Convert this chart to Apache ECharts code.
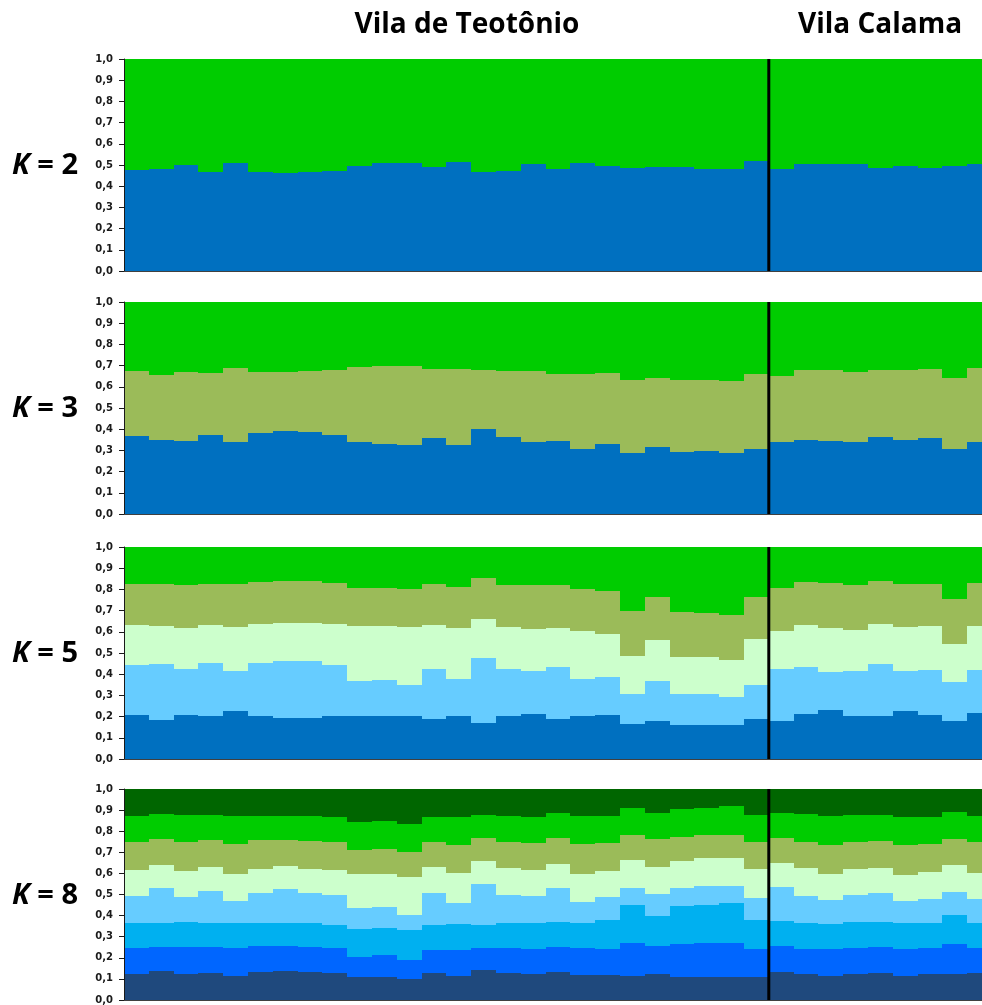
<!DOCTYPE html>
<html>
<head>
<meta charset="utf-8">
<script src="https://cdn.jsdelivr.net/npm/echarts@6/dist/echarts.min.js"></script>
<style>
html, body { margin: 0; padding: 0; background: #fff; overflow: hidden; }
/* the last Calama bar is cut by the picture edge, so the canvas runs past the window */
#chart { width: 992px; height: 1005px; }
</style>
</head>
<body>
<div id="chart"></div>
<script>
// individuals: 26 from Vila de Teotônio, 9 from Vila Calama
var individuals = ['T01','T02','T03','T04','T05','T06','T07','T08','T09','T10','T11','T12','T13',
  'T14','T15','T16','T17','T18','T19','T20','T21','T22','T23','T24','T25','T26',
  'C01','C02','C03','C04','C05','C06','C07','C08','C09'];
var teotonioSize = 26;

// K = 2 (bottom -> top)
var k2Blue  = [0.476,0.481,0.501,0.467,0.508,0.467,0.464,0.465,0.470,0.495,0.511,0.508,0.489,0.514,0.465,0.472,0.505,0.480,0.511,0.497,0.487,0.490,0.490,0.483,0.483,0.520, 0.480,0.503,0.506,0.506,0.484,0.494,0.486,0.497,0.506];
var k2Green = [0.524,0.519,0.499,0.533,0.492,0.533,0.536,0.535,0.530,0.505,0.489,0.492,0.511,0.486,0.535,0.528,0.495,0.520,0.489,0.503,0.513,0.510,0.510,0.517,0.517,0.480, 0.520,0.497,0.494,0.494,0.516,0.506,0.514,0.503,0.494];

// K = 3
var k3Blue  = [0.369,0.349,0.344,0.373,0.340,0.382,0.390,0.387,0.373,0.341,0.332,0.325,0.360,0.324,0.400,0.362,0.340,0.346,0.305,0.330,0.288,0.315,0.291,0.296,0.286,0.305, 0.340,0.349,0.344,0.341,0.365,0.349,0.360,0.305,0.341];
var k3Olive = [0.306,0.308,0.326,0.294,0.347,0.289,0.278,0.288,0.306,0.351,0.365,0.375,0.323,0.359,0.279,0.313,0.336,0.316,0.357,0.337,0.344,0.328,0.341,0.336,0.341,0.355, 0.312,0.329,0.335,0.327,0.313,0.330,0.324,0.335,0.349];
var k3Green = [0.325,0.343,0.330,0.333,0.313,0.329,0.332,0.325,0.321,0.308,0.303,0.300,0.317,0.317,0.321,0.325,0.324,0.338,0.338,0.333,0.368,0.357,0.368,0.368,0.373,0.340, 0.348,0.322,0.321,0.332,0.322,0.321,0.316,0.360,0.310];

// K = 5
var k5Blue  = [0.209,0.186,0.209,0.201,0.225,0.205,0.193,0.193,0.205,0.201,0.205,0.201,0.189,0.205,0.170,0.205,0.214,0.190,0.203,0.206,0.165,0.181,0.160,0.160,0.160,0.187, 0.178,0.214,0.231,0.205,0.205,0.226,0.209,0.179,0.217];
var k5Sky   = [0.233,0.264,0.217,0.252,0.190,0.250,0.269,0.269,0.240,0.167,0.166,0.150,0.234,0.171,0.306,0.221,0.200,0.246,0.174,0.179,0.142,0.187,0.145,0.147,0.132,0.162, 0.248,0.218,0.179,0.210,0.245,0.191,0.209,0.184,0.201];
var k5Mint  = [0.189,0.177,0.194,0.179,0.208,0.180,0.180,0.180,0.194,0.259,0.255,0.270,0.209,0.242,0.183,0.198,0.199,0.182,0.229,0.203,0.179,0.195,0.178,0.173,0.175,0.217, 0.178,0.199,0.210,0.195,0.187,0.204,0.209,0.181,0.208];
var k5Olive = [0.196,0.198,0.203,0.195,0.202,0.198,0.199,0.196,0.193,0.181,0.182,0.183,0.195,0.192,0.196,0.199,0.206,0.205,0.198,0.206,0.212,0.203,0.210,0.207,0.212,0.200, 0.204,0.202,0.209,0.212,0.201,0.204,0.198,0.209,0.204];
var k5Green = [0.173,0.175,0.177,0.173,0.175,0.167,0.159,0.162,0.168,0.192,0.192,0.196,0.173,0.190,0.145,0.177,0.181,0.177,0.196,0.206,0.302,0.234,0.307,0.313,0.321,0.234, 0.192,0.167,0.171,0.178,0.162,0.175,0.175,0.247,0.170];

// K = 8
var k8Navy  = [0.123,0.137,0.121,0.129,0.116,0.132,0.137,0.132,0.126,0.107,0.110,0.099,0.129,0.116,0.140,0.129,0.121,0.132,0.118,0.118,0.113,0.121,0.111,0.110,0.107,0.111, 0.132,0.123,0.116,0.123,0.130,0.113,0.121,0.121,0.126];
var k8Blue  = [0.125,0.116,0.132,0.124,0.131,0.123,0.121,0.121,0.119,0.099,0.104,0.091,0.108,0.121,0.108,0.116,0.121,0.121,0.129,0.124,0.157,0.137,0.156,0.159,0.162,0.130, 0.126,0.120,0.126,0.125,0.120,0.128,0.126,0.143,0.119];
var k8Cyan  = [0.115,0.113,0.116,0.113,0.118,0.108,0.105,0.110,0.112,0.130,0.127,0.142,0.118,0.121,0.107,0.121,0.121,0.118,0.118,0.135,0.180,0.138,0.178,0.181,0.193,0.139, 0.117,0.122,0.119,0.123,0.121,0.122,0.118,0.138,0.120];
var k8Sky   = [0.130,0.167,0.120,0.151,0.105,0.146,0.165,0.146,0.140,0.099,0.099,0.070,0.151,0.104,0.197,0.134,0.128,0.162,0.099,0.109,0.080,0.107,0.085,0.088,0.076,0.103, 0.159,0.130,0.111,0.127,0.138,0.107,0.116,0.112,0.116];
var k8Mint  = [0.123,0.109,0.124,0.115,0.126,0.114,0.107,0.114,0.119,0.162,0.159,0.183,0.126,0.140,0.105,0.124,0.123,0.113,0.133,0.124,0.135,0.129,0.130,0.133,0.137,0.140, 0.113,0.129,0.125,0.123,0.115,0.124,0.126,0.128,0.119];
var k8Olive = [0.135,0.122,0.135,0.126,0.143,0.133,0.123,0.132,0.132,0.115,0.118,0.116,0.119,0.132,0.110,0.125,0.131,0.120,0.142,0.133,0.115,0.129,0.114,0.109,0.109,0.125, 0.122,0.125,0.139,0.130,0.131,0.140,0.132,0.119,0.150];
var k8Green = [0.123,0.118,0.129,0.119,0.134,0.118,0.116,0.118,0.120,0.130,0.130,0.134,0.117,0.131,0.110,0.125,0.124,0.119,0.134,0.131,0.132,0.127,0.132,0.128,0.134,0.129, 0.119,0.134,0.138,0.126,0.122,0.132,0.127,0.129,0.121];
var k8Dark  = [0.126,0.118,0.123,0.123,0.127,0.126,0.126,0.127,0.132,0.158,0.153,0.165,0.132,0.135,0.123,0.126,0.131,0.115,0.127,0.126,0.088,0.112,0.094,0.092,0.082,0.123, 0.112,0.117,0.126,0.123,0.123,0.134,0.134,0.110,0.129];

var C = {navy:'#1F497D', blue:'#0066FF', mid:'#0070C0', cyan:'#00B0F0', sky:'#66CCFF',
         mint:'#CCFFCC', olive:'#9BBB59', green:'#00CC00', dark:'#006600'};

var panels = [
  {k: 2, top: 59,  layers: [[k2Blue, C.mid], [k2Green, C.green]]},
  {k: 3, top: 302, layers: [[k3Blue, C.mid], [k3Olive, C.olive], [k3Green, C.green]]},
  {k: 5, top: 547, layers: [[k5Blue, C.mid], [k5Sky, C.sky], [k5Mint, C.mint], [k5Olive, C.olive], [k5Green, C.green]]},
  {k: 8, top: 789, layers: [[k8Navy, C.navy], [k8Blue, C.blue], [k8Cyan, C.cyan], [k8Sky, C.sky],
                            [k8Mint, C.mint], [k8Olive, C.olive], [k8Green, C.green], [k8Dark, C.dark]]}
];

// stacked rect whose edges are snapped to whole pixels so neighbouring bars leave no seams
function stackRect(color) {
  return function(params, api) {
    var j = api.value(0);
    var lo = api.coord([j, api.value(1)]);
    var hi = api.coord([j, api.value(2)]);
    var w = api.size([1, 0])[0];
    var x0 = Math.round(lo[0] - w / 2), x1 = Math.round(lo[0] + w / 2);
    var y0 = Math.round(lo[1]), y1 = Math.round(hi[1]);
    return {type: 'rect', shape: {x: x0, y: y1, width: x1 - x0, height: y0 - y1},
      style: {fill: color}};
  };
}

var plotH = 212;
var grid = [], xAxis = [], yAxis = [], series = [], graphic = [];
var n = panels.length;

panels.forEach(function(p, i) {
  grid.push({left: 124, right: 0, top: p.top, height: plotH});
  xAxis[i] = {type: 'category', gridIndex: i, data: individuals, z: 5,
    axisLine: {show: true, lineStyle: {color: '#404040', width: 1}},
    axisTick: {show: false}, axisLabel: {show: false}, splitLine: {show: false}};
  xAxis[n + i] = {type: 'value', gridIndex: i, min: 0, max: individuals.length, show: false};
  yAxis.push({type: 'value', gridIndex: i, min: 0, max: 1, interval: 0.1, z: 5,
    axisLine: {show: true, lineStyle: {color: '#1a1a1a'}},
    axisTick: {show: true, length: 5, lineStyle: {color: '#1a1a1a'}},
    splitLine: {show: false},
    axisLabel: {margin: 11, fontSize: 10, fontWeight: 'bold', fontFamily: 'DejaVu Sans', color: '#1a1a1a',
      formatter: function(v) { return v.toFixed(1).replace('.', ','); }}});

  var base = individuals.map(function() { return 0; });
  p.layers.forEach(function(l) {
    var rows = l[0].map(function(v, j) {
      var row = [j, base[j], base[j] + v];
      base[j] += v;
      return row;
    });
    series.push({type: 'custom', xAxisIndex: i, yAxisIndex: i, silent: true,
      encode: {x: 0, y: [1, 2]}, data: rows, renderItem: stackRect(l[1])});
  });

  // divider between the two localities
  series.push({type: 'line', xAxisIndex: n + i, yAxisIndex: i, z: 10, silent: true,
    data: [[teotonioSize, 0], [teotonioSize, 1]], symbol: 'none',
    lineStyle: {color: '#000', width: 3}});

  graphic.push({type: 'text', x: 45, y: p.top + plotH / 2 + 1, style: {
    text: '{k|K} = ' + p.k, fill: '#000', fontSize: 29, fontWeight: 'bold', fontFamily: 'Open Sans',
    align: 'center', verticalAlign: 'middle', textAlign: 'center', textVerticalAlign: 'middle',
    rich: {k: {fontStyle: 'italic', fontWeight: 'bold', fontSize: 29, fontFamily: 'Open Sans'}}}});
});

[['Vila de Teotônio', 467], ['Vila Calama', 880]].forEach(function(t) {
  graphic.push({type: 'text', x: t[1], y: 25, style: {
    text: t[0], fill: '#000', fontSize: 28, fontWeight: 'bold', fontFamily: 'Open Sans',
    align: 'center', verticalAlign: 'middle', textAlign: 'center', textVerticalAlign: 'middle'}});
});

var chart = echarts.init(document.getElementById('chart'));
chart.setOption({animation: false, backgroundColor: '#fff',
  grid: grid, xAxis: xAxis, yAxis: yAxis, series: series, graphic: graphic});
</script>
</body>
</html>
